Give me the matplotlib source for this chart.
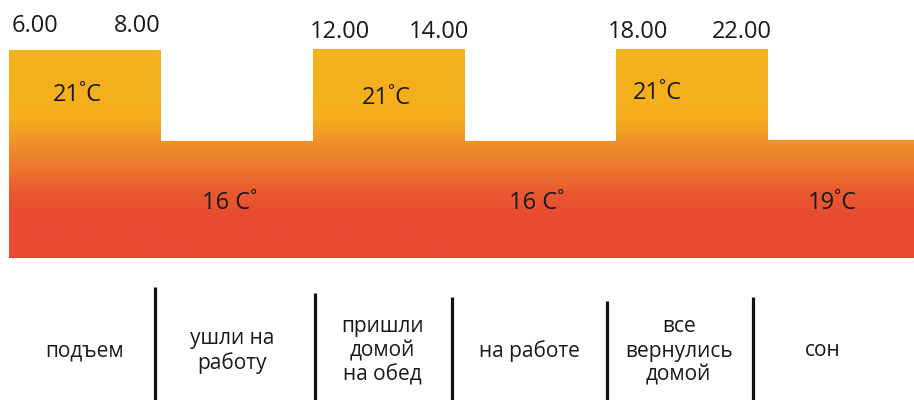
import numpy as np
import matplotlib.pyplot as plt
from matplotlib.colors import LinearSegmentedColormap

plt.rcParams['font.family'] = ['Open Sans', 'DejaVu Sans']
plt.rcParams['text.color'] = '#1a1a1a'

# data
activities = ['подъем', 'ушли на\nработу', 'пришли\nдомой\nна обед',
              'на работе', 'все\nвернулись\nдомой', 'сон']
temps = ['21˚C', '16 C˚', '21˚C', '16 C˚', '21˚C', '19˚C']
heights = [2.08, 1.17, 2.09, 1.17, 2.09, 1.18]   # bar height (picture units)
times = ['6.00', '8.00', '12.00', '14.00', '18.00', '22.00']
divider_x = [0.962, 2.016, 2.918, 3.94, 4.90]

edges = np.arange(len(heights) + 1)

# gradient stops (height from bottom, colour)
grad = [(0.00, '#e84b31'), (0.43, '#e84c31'), (0.66, '#e95a30'),
        (0.90, '#ec772e'), (1.15, '#ef912a'), (1.40, '#f4ae1d'),
        (2.58, '#f6b61a')]
cmap = LinearSegmentedColormap.from_list(
    'heat', [(h / 2.58, c) for h, c in grad])

fig = plt.figure(figsize=(9.14, 4.0), dpi=100)
ax = fig.add_axes([9 / 914, 142 / 400, 905 / 914, 258 / 400])
ax.set_xlim(0, 5.96)
ax.set_ylim(0, 2.58)
ax.axis('off')

step = ax.stairs(heights, edges, fill=True, color='none', lw=0)
g = np.linspace(0, 1, 256).reshape(-1, 1)
im = ax.imshow(g, cmap=cmap, origin='lower', aspect='auto',
               extent=(0, len(heights), 0, 2.58), interpolation='bilinear')
im.set_clip_path(step)

# time labels on the edges of the high bars
time_dx = [3, 0, -3, 5, -9, 4]
time_dy = [18, 18, 11, 11, 11, 11]
for k, i in enumerate([0, 2, 4]):
    ax.annotate(times[2 * k], (edges[i], heights[i]),
                xytext=(time_dx[2 * k], time_dy[2 * k]),
                textcoords='offset pixels', ha='left', va='baseline',
                fontsize=17)
    ax.annotate(times[2 * k + 1], (edges[i + 1], heights[i]),
                xytext=(time_dx[2 * k + 1], time_dy[2 * k + 1]),
                textcoords='offset pixels', ha='right', va='baseline',
                fontsize=17)

# temperature labels
temp_dx = [-8, -7, -2, -4, -35, -12]
temp_y = [1.63, 0.55, 1.60, 0.55, 1.65, 0.55]
for i, t in enumerate(temps):
    ax.annotate(t, ((edges[i] + edges[i + 1]) / 2, temp_y[i]),
                xytext=(temp_dx[i], 0), textcoords='offset pixels',
                ha='center', va='center', fontsize=17)

# activity row
ax2 = fig.add_axes([9 / 914, 0, 905 / 914, 120 / 400])
ax2.set_xlim(0, 5.96)
ax2.set_ylim(400, 280)
ax2.axis('off')
div_top = [287, 293, 297, 301, 297]
ax2.vlines(divider_x, div_top, 400, color='#111111', lw=2.3)
act_x = [0.50, 1.47, 2.46, 3.43, 4.41, 5.36]
for x, a in zip(act_x, activities):
    ax2.text(x, 351, a, ha='center', va='center', fontsize=15,
             linespacing=1.2)

fig.savefig('out.png', dpi=100)
